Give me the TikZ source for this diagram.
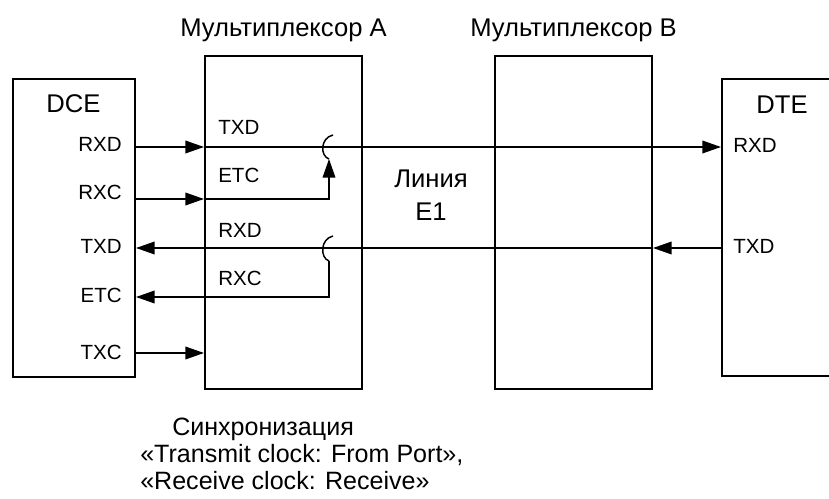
\documentclass[tikz,border=0pt]{standalone}
\usepackage{fontspec}
\setmainfont{Liberation Sans}
\usetikzlibrary{arrows.meta}
\tikzset{
  box/.style={draw, line width=2pt, inner sep=0pt, outer sep=0pt},
  sig/.style={line width=1.1pt},
  sigarrow/.style={sig, -{Triangle[length=14pt, width=9.5pt]}},
  bigtext/.style={inner sep=0pt, font=\fontsize{19.2pt}{23pt}\selectfont},
  notetext/.style={inner sep=0pt, font=\fontsize{18.8pt}{23pt}\selectfont},
  smalltext/.style={inner sep=0pt, font=\fontsize{15.4pt}{18pt}\selectfont},
}
\begin{document}
\begin{tikzpicture}[x=0.75pt, y=-0.75pt]
\useasboundingbox (0,0) rectangle (829,499);
% boxes
\node[box, minimum width=91.5pt, minimum height=223.5pt] (dce) at (74,228) {};
\node[box, minimum width=117.75pt, minimum height=249.75pt] (muxa) at (283.5,222.5) {};
\node[box, minimum width=117.75pt, minimum height=249.75pt] (muxb) at (573.5,222.5) {};
\draw[line width=2pt] (832,79) -- (722,79) -- (722,376) -- (832,376);
% titles
\node[bigtext, anchor=base] (ta) at (283.5,37) {Мультиплексор А};
\node[bigtext, anchor=base] (tb) at (573.5,37) {Мультиплексор В};
\node[bigtext, anchor=base] (dcet) at (73.5,113) {DCE};
\node[bigtext, anchor=base] (dtet) at (782,114) {DTE};
\node[bigtext, anchor=base] (lin1) at (431,188) {Линия};
\node[bigtext, anchor=base] (lin2) at (431,221) {E1};
% DCE labels
\node[smalltext, anchor=base east] (l1) at (122,152) {RXD};
\node[smalltext, anchor=base east] (l2) at (122,200) {RXC};
\node[smalltext, anchor=base east] (l3) at (122,254) {TXD};
\node[smalltext, anchor=base east] (l4) at (122,302) {ETC};
\node[smalltext, anchor=base east] (l5) at (122,359) {TXC};
% Mux A labels
\node[smalltext, anchor=base west] (m1) at (218,135) {TXD};
\node[smalltext, anchor=base west] (m2) at (218,183) {ETC};
\node[smalltext, anchor=base west] (m3) at (218,238) {RXD};
\node[smalltext, anchor=base west] (m4) at (218,286) {RXC};
% DTE labels
\node[smalltext, anchor=base west] (r1) at (733,153) {RXD};
\node[smalltext, anchor=base west] (r2) at (733,254) {TXD};
% bottom text
\node[notetext, anchor=base west] (b1) at (172,435) {Синхронизация};
\node[notetext, anchor=base west] (b2) at (140,462) {«Transmit clock: From Port»,};
\node[notetext, anchor=base west] (b3) at (140,489) {«Receive clock: Receive»};
% port coordinates
\coordinate (dRXD) at (136,147);
\coordinate (dRXC) at (136,199);
\coordinate (dTXD) at (136,248);
\coordinate (dETC) at (136,297);
\coordinate (dTXC) at (136,353);
\coordinate (aRXD) at (204,147);
\coordinate (aRXC) at (204,199);
\coordinate (aTXC) at (204,353);
\coordinate (bTXD) at (653,248);
\coordinate (eRXD) at (721,147);
\coordinate (eTXD) at (723,248);
\coordinate (h1b) at (329,159);
\coordinate (h1t) at (333,135);
\coordinate (h2b) at (329,261);
\coordinate (h2t) at (333,236);
\coordinate (c1) at (329,199);
\coordinate (c2) at (329,297);
% connectors
\draw[sigarrow] (dRXD) -- (aRXD);
\draw[sigarrow] (aRXD) -- (eRXD);
\draw[sigarrow] (dRXC) -- (aRXC);
\draw[sigarrow] (aRXC) -- (c1) -- (h1b);
\draw[sig] (h1b) .. controls (320,156) and (320,138) .. (h1t);
\draw[sigarrow] (eTXD) -- (bTXD);
\draw[sigarrow] (bTXD) -- (dTXD);
\draw[sig] (h2b) .. controls (320,258) and (320,239) .. (h2t);
\draw[sigarrow] (h2b) -- (c2) -- (dETC);
\draw[sigarrow] (dTXC) -- (aTXC);
\end{tikzpicture}
\end{document}
